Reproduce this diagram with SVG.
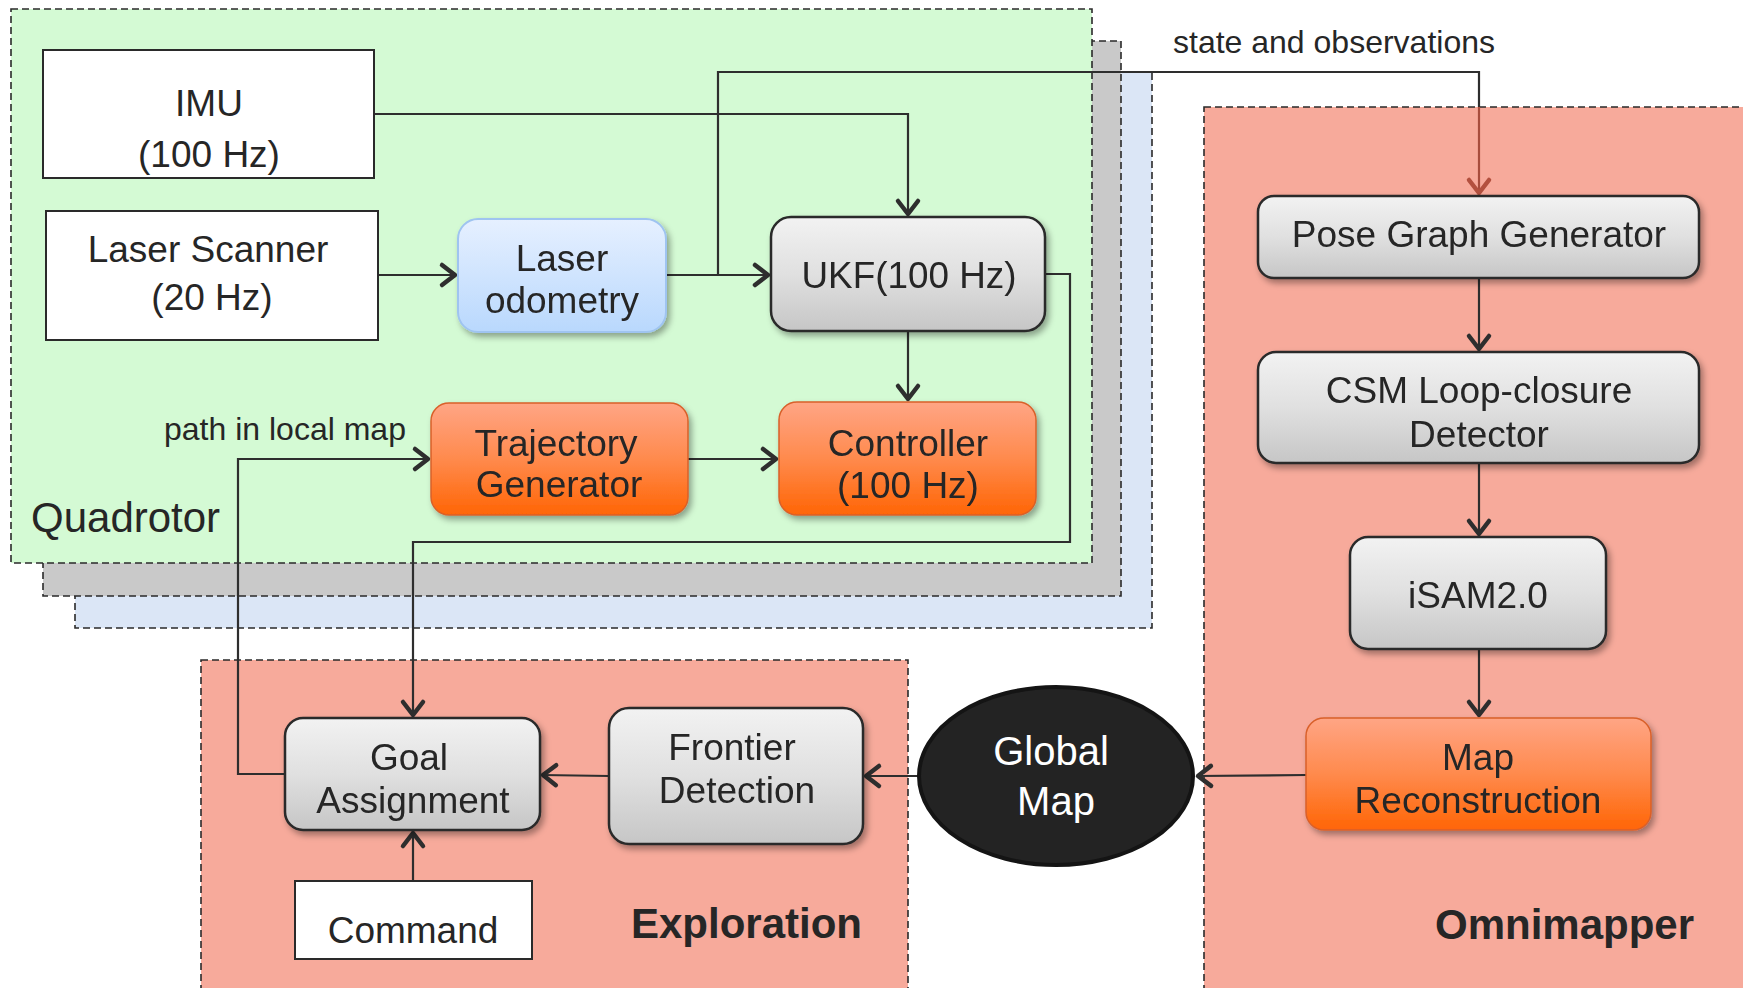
<svg xmlns="http://www.w3.org/2000/svg" width="1743" height="988" viewBox="0 0 1743 988">
<style>
text{font-family:"Liberation Sans",Arial,sans-serif;fill:#262626;}
.t{font-size:37px;text-anchor:middle;}
.lbl{font-size:32px;}
.big{font-size:42px;}
.bold{font-size:42px;font-weight:bold;}
.grp{stroke:#2a2a2a;stroke-width:1.6;stroke-dasharray:7,4;}
.plain{fill:#ffffff;stroke:#2a2a2a;stroke-width:2;}
.gray{fill:url(#gGray);stroke:#2a2a2a;stroke-width:2.5;}
.orange{fill:url(#gOrange);stroke:#d9602a;stroke-width:1.5;}
.blue{fill:url(#gBlue);stroke:#9fc4f0;stroke-width:2;}
.c{fill:none;stroke:#2e2e2e;stroke-width:2.2;}
.ca{marker-end:url(#arr);}
</style>
<defs>
<linearGradient id="gGray" x1="0" y1="0" x2="0" y2="1">
<stop offset="0" stop-color="#f2f2f2"/><stop offset="0.5" stop-color="#e0e0e0"/><stop offset="1" stop-color="#c6c6c6"/>
</linearGradient>
<linearGradient id="gOrange" x1="0" y1="0" x2="0" y2="1">
<stop offset="0" stop-color="#ffa585"/><stop offset="0.5" stop-color="#ff8a4d"/><stop offset="1" stop-color="#ff6505"/>
</linearGradient>
<linearGradient id="gBlue" x1="0" y1="0" x2="0" y2="1">
<stop offset="0" stop-color="#e6f0ff"/><stop offset="1" stop-color="#b9d8fd"/>
</linearGradient>
<filter id="sh" x="-10%" y="-10%" width="130%" height="140%">
<feDropShadow dx="3" dy="4" stdDeviation="3" flood-color="#000" flood-opacity="0.35"/>
</filter>
<marker id="arr" markerUnits="userSpaceOnUse" markerWidth="32" markerHeight="32" viewBox="-20 -16 32 32" refX="1" refY="0" orient="auto" overflow="visible">
<path d="M-13,-10 L0,0 L-13,10" fill="none" stroke="#2e2e2e" stroke-width="4.5" stroke-linecap="round" stroke-linejoin="round"/>
</marker>
<marker id="arrR" markerUnits="userSpaceOnUse" markerWidth="32" markerHeight="32" viewBox="-20 -16 32 32" refX="1" refY="0" orient="auto" overflow="visible">
<path d="M-13,-10 L0,0 L-13,10" fill="none" stroke="#b3503e" stroke-width="4.5" stroke-linecap="round" stroke-linejoin="round"/>
</marker>
</defs>

<rect width="1743" height="988" fill="#ffffff"/>

<!-- group backgrounds -->
<g id="group-backgrounds">
<rect x="75" y="72" width="1077" height="556" fill="#dbe6f6" class="grp"/>
<rect x="43" y="41" width="1078" height="555" fill="#c9c9c9" class="grp"/>
<rect x="11" y="9" width="1081" height="554" fill="#d4fad4" class="grp"/>
<rect x="1204" y="107" width="560" height="900" fill="#f7aa9b" class="grp"/>
<rect x="201" y="660" width="707" height="350" fill="#f7aa9b" class="grp"/>
</g>

<!-- connectors -->
<g id="connectors">
<path class="c ca" d="M374,114 H908 V215"/>
<path class="c ca" d="M378,275 H456"/>
<path class="c ca" d="M666,275 H769"/>
<path class="c" d="M718,275 V72 H1479 V107"/>
<path fill="none" stroke="#a84d3d" stroke-width="2.2" marker-end="url(#arrR)" d="M1479,107 V194"/>
<path class="c ca" d="M908,331 V400"/>
<path class="c ca" d="M688,459 H777"/>
<path class="c ca" d="M1045,274 H1070 V542 H413 V716"/>
<path class="c ca" d="M285,774 H238 V459 H429"/>
<path class="c ca" d="M1479,278 V350"/>
<path class="c ca" d="M1479,463 V535"/>
<path class="c ca" d="M1479,649 V716"/>
<path class="c ca" d="M1306,775 L1197,776"/>
<path class="c ca" d="M918,776 H865"/>
<path class="c ca" d="M609,776 L542,775"/>
<path class="c ca" d="M413,881 V832"/>
</g>

<!-- nodes -->
<g id="imu">
<rect class="plain" x="43" y="50" width="331" height="128"/>
<text class="t" x="209" y="116">IMU</text>
<text class="t" x="209" y="167">(100 Hz)</text>
</g>
<g id="laser-scanner">
<rect class="plain" x="46" y="211" width="332" height="129"/>
<text class="t" x="208" y="262">Laser Scanner</text>
<text class="t" x="212" y="310">(20 Hz)</text>
</g>
<g id="laser-odometry" filter="url(#sh)">
<rect class="blue" x="458" y="219" width="208" height="113" rx="20"/>
<text class="t" x="562" y="271">Laser</text>
<text class="t" x="562" y="313">odometry</text>
</g>
<g id="ukf" filter="url(#sh)">
<rect class="gray" x="771" y="217" width="274" height="114" rx="20"/>
<text class="t" x="909" y="288" textLength="215" lengthAdjust="spacingAndGlyphs">UKF(100 Hz)</text>
</g>
<g id="trajectory-generator" filter="url(#sh)">
<rect class="orange" x="431" y="403" width="257" height="112" rx="18"/>
<text class="t" x="556" y="456">Trajectory</text>
<text class="t" x="559" y="497">Generator</text>
</g>
<g id="controller" filter="url(#sh)">
<rect class="orange" x="779" y="402" width="257" height="113" rx="18"/>
<text class="t" x="908" y="456">Controller</text>
<text class="t" x="908" y="498">(100 Hz)</text>
</g>
<g id="pose-graph-generator" filter="url(#sh)">
<rect class="gray" x="1258" y="196" width="441" height="82" rx="16"/>
<text class="t" x="1479" y="247">Pose Graph Generator</text>
</g>
<g id="csm-detector" filter="url(#sh)">
<rect class="gray" x="1258" y="352" width="441" height="111" rx="18"/>
<text class="t" x="1479" y="403">CSM Loop-closure</text>
<text class="t" x="1479" y="447">Detector</text>
</g>
<g id="isam" filter="url(#sh)">
<rect class="gray" x="1350" y="537" width="256" height="112" rx="18"/>
<text class="t" x="1478" y="608">iSAM2.0</text>
</g>
<g id="map-reconstruction" filter="url(#sh)">
<rect class="orange" x="1306" y="718" width="345" height="112" rx="18"/>
<text class="t" x="1478" y="770">Map</text>
<text class="t" x="1478" y="813">Reconstruction</text>
</g>
<g id="global-map">
<ellipse cx="1056" cy="776" rx="137" ry="89" fill="#232323" stroke="#141414" stroke-width="4"/>
<text class="t" x="1051" y="765" style="font-size:40px;fill:#ffffff">Global</text>
<text class="t" x="1056" y="815" style="font-size:40px;fill:#ffffff">Map</text>
</g>
<g id="frontier-detection" filter="url(#sh)">
<rect class="gray" x="609" y="708" width="254" height="136" rx="20"/>
<text class="t" x="732" y="760">Frontier</text>
<text class="t" x="737" y="803">Detection</text>
</g>
<g id="goal-assignment" filter="url(#sh)">
<rect class="gray" x="285" y="718" width="255" height="112" rx="18"/>
<text class="t" x="409" y="770">Goal</text>
<text class="t" x="413" y="813">Assignment</text>
</g>
<g id="command">
<rect class="plain" x="295" y="881" width="237" height="78"/>
<text class="t" x="413" y="943">Command</text>
</g>

<!-- labels -->
<g id="labels">
<text class="big" x="31" y="532">Quadrotor</text>
<text class="bold" x="631" y="938">Exploration</text>
<text class="bold" x="1435" y="939">Omnimapper</text>
<text class="lbl" x="164" y="440">path in local map</text>
<text class="lbl" x="1173" y="53">state and observations</text>
</g>
</svg>
